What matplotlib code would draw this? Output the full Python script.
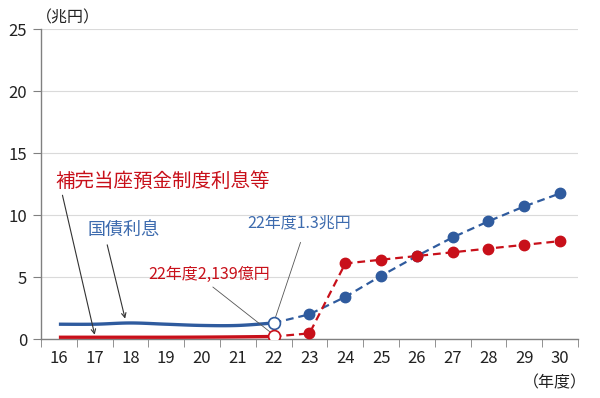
import numpy as np
import matplotlib
matplotlib.use("Agg")
import matplotlib.pyplot as plt

plt.rcParams['font.family'] = ['Noto Sans CJK JP', 'DejaVu Sans']

years = ['16', '17', '18', '19', '20', '21', '22', '23', '24', '25', '26', '27', '28', '29', '30']
jgb_interest = [1.2, 1.2, 1.3, 1.2, 1.1, 1.1, 1.3, 2.0, 3.4, 5.1, 6.7, 8.2, 9.5, 10.7, 11.75]
boj_interest = [0.15, 0.15, 0.15, 0.15, 0.16, 0.18, 0.21, 0.46, 6.1, 6.4, 6.7, 7.0, 7.3, 7.6, 7.9]
split_idx = 6  # 22年度: actual -> projection

BLUE = '#2F5B9E'
RED = '#C8101A'
BLUE_TXT = '#3D6BAE'
TXT = '#222222'


def smooth(x, y, n=20):
    x = np.asarray(x, float)
    y = np.asarray(y, float)
    xs, ys = [], []
    px = np.concatenate([[x[0]], x, [x[-1]]])
    py = np.concatenate([[y[0]], y, [y[-1]]])
    for i in range(1, len(px) - 2):
        t = np.linspace(0, 1, n, endpoint=False)
        p0, p1, p2, p3 = py[i - 1], py[i], py[i + 1], py[i + 2]
        q0, q1, q2, q3 = px[i - 1], px[i], px[i + 1], px[i + 2]
        f = lambda a0, a1, a2, a3: 0.5 * ((2 * a1) + (-a0 + a2) * t + (2 * a0 - 5 * a1 + 4 * a2 - a3) * t ** 2 + (-a0 + 3 * a1 - 3 * a2 + a3) * t ** 3)
        xs.append(f(q0, q1, q2, q3))
        ys.append(f(p0, p1, p2, p3))
    xs.append([x[-1]])
    ys.append([y[-1]])
    return np.concatenate(xs), np.concatenate(ys)


fig = plt.figure(figsize=(6.0, 3.98), dpi=100)
ax = fig.add_axes([0.0683, 0.148, 0.895, 0.779])

x = np.arange(len(years))

for vals, col in [(jgb_interest, BLUE), (boj_interest, RED)]:
    sx, sy = smooth(x[:split_idx + 1], vals[:split_idx + 1])
    ax.plot(sx, sy, color=col, lw=2.4, solid_capstyle='butt', zorder=3)
    ax.plot(x[split_idx:], vals[split_idx:], color=col, lw=1.6, ls=(0, (3.5, 2.2)), zorder=3)
    ax.plot(x[split_idx + 1:], vals[split_idx + 1:], ls='none', marker='o', ms=7.5,
            color=col, mec=col, zorder=4)
    ax.plot([x[split_idx]], [vals[split_idx]], ls='none', marker='o', ms=8.5,
            mfc='white', mec=col, mew=1.2, zorder=5)

ax.set_xlim(-0.5, len(years) - 0.5)
ax.set_ylim(0, 25)
ax.set_yticks([0, 5, 10, 15, 20, 25])
ax.set_xticks(x)
ax.set_xticklabels(years)
ax.set_xticks(np.arange(-0.5, len(years), 1.0), minor=True)
ax.tick_params(axis='x', which='major', length=0, labelsize=12, pad=8, colors=TXT)
ax.tick_params(axis='x', which='minor', length=6, color='#808080', direction='out')
ax.tick_params(axis='y', length=6, color='#808080', labelsize=12, colors=TXT, pad=4)
ax.yaxis.grid(True, color='#DADADA', lw=0.8)
ax.set_axisbelow(True)
for s in ['top', 'right']:
    ax.spines[s].set_visible(False)
for s in ['left', 'bottom']:
    ax.spines[s].set_color('#808080')
    ax.spines[s].set_linewidth(1.0)

fig.text(0.060, 0.955, '（兆円）', fontsize=11.5, color=TXT, va='center', ha='left')
fig.text(0.978, 0.038, '（年度）', fontsize=11.5, color=TXT, va='center', ha='right')

ax.text(-0.1, 12.7, '補完当座預金制度利息等', color=RED, fontsize=14,
        fontweight='normal', va='center', ha='left')
ax.text(0.8, 8.8, '国債利息', color=BLUE_TXT, fontsize=13, va='center', ha='left')
ax.text(5.25, 9.4, '22年度1.3兆円', color=BLUE_TXT, fontsize=11.5, va='center', ha='left')
ax.text(2.5, 5.25, '22年度2,139億円', color=RED, fontsize=11.5, va='center', ha='left')

arrow_kw = dict(arrowstyle='->', color='#333333', lw=0.8, shrinkA=0, shrinkB=0, mutation_scale=8)
ax.annotate('', xy=(1.0, 0.35), xytext=(0.1, 11.6), arrowprops=arrow_kw)
ax.annotate('', xy=(1.85, 1.65), xytext=(1.35, 7.6), arrowprops=arrow_kw)
line_kw = dict(arrowstyle='-', color='#555555', lw=0.6, shrinkA=0, shrinkB=0)
ax.annotate('', xy=(x[split_idx] - 0.05, boj_interest[split_idx] + 0.25), xytext=(4.3, 4.2), arrowprops=line_kw)
ax.annotate('', xy=(x[split_idx] + 0.05, jgb_interest[split_idx] + 0.45), xytext=(6.75, 7.8), arrowprops=line_kw)

fig.savefig('out.png', dpi=100)
